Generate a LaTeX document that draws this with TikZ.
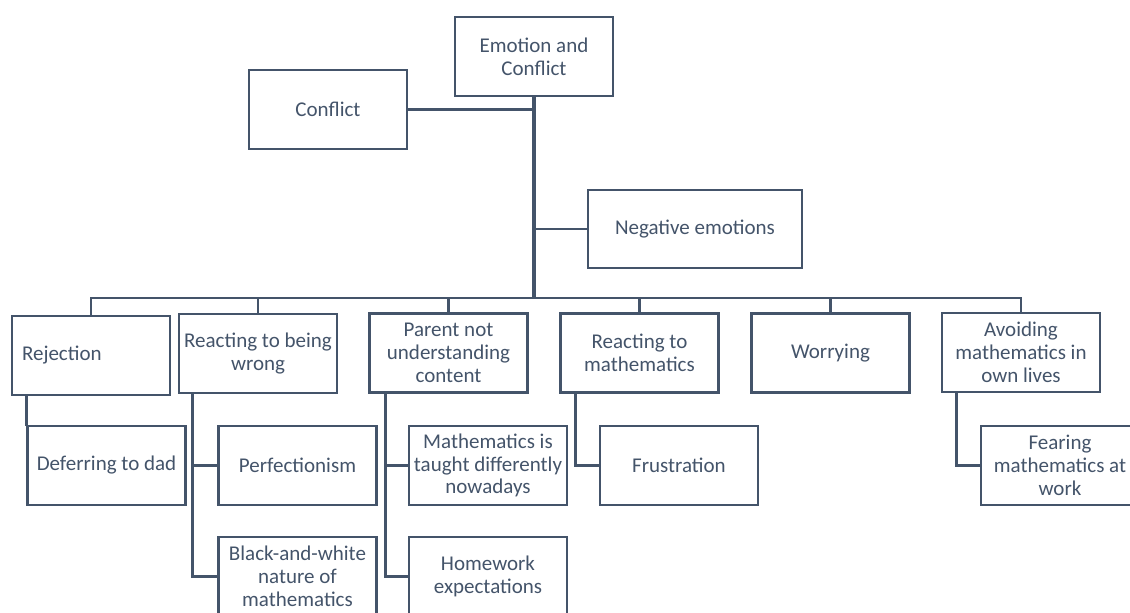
\documentclass[tikz,border=0pt]{standalone}
\usepackage{fontspec}
\setmainfont{Carlito}
\definecolor{slate}{HTML}{44546A}
\begin{document}
\begin{tikzpicture}[x=1pt,y=-1pt,
  box/.style={draw=slate, line width=2.8pt, rectangle, fill=white,
    minimum width=158pt, minimum height=79pt, inner sep=2pt,
    align=center, text=slate, font=\fontsize{21}{22.8}\selectfont},
  link/.style={draw=slate, line width=2.8pt, line cap=rect},
  trunk/.style={draw=slate, line width=3.2pt}]
\useasboundingbox (0,0) rectangle (1130,613);
\clip (0,0) rectangle (1130,613);

% top level
\node[box] (root) at (534,56.5) {Emotion and\\Conflict};
\node[box] (conf) at (328,109.5) {Conflict};
\node[box, minimum width=214pt, minimum height=78pt] (neg) at (695,229) {Negative emotions};

% second level
\node[box, text width=138pt, inner xsep=10pt, align=left] (rej) at (91,355.5) {Rejection};
\node[box] (rbw) at (258,353.5) {Reacting to being\\wrong};
\node[box] (pnu) at (448.5,353) {Parent not\\understanding\\content};
\node[box] (rtm) at (639.5,353) {Reacting to\\mathematics};
\node[box] (wor) at (830.5,353) {Worrying};
\node[box] (avo) at (1021,352.5) {Avoiding\\mathematics in\\own lives};

% third level
\node[box] (def) at (106.5,465.5) {Deferring to dad};
\node[box] (perf) at (297.5,465.5) {Perfectionism};
\node[box] (bw) at (297.5,576.5) {Black-and-white\\nature of\\mathematics};
\node[box] (mtd) at (488,465.5) {Mathematics is\\taught differently\\nowadays};
\node[box] (hw) at (488,576.5) {Homework\\expectations};
\node[box] (fru) at (679,465.5) {Frustration};
\node[box] (fear) at (1060,465.5) {Fearing\\mathematics at\\work};

% main trunk and bus
\coordinate (bus) at (533,298);
\draw[trunk] (root.south) -- (root.south |- bus);
\draw[link] (conf.east) -- (conf.east -| root.south);
\draw[link] (neg.west) -- (neg.west -| root.south);
\draw[link] (rej.north) -- (rej.north |- bus) -- (avo.north |- bus) -- (avo.north);
\foreach \n in {rbw,pnu,rtm,wor}
  \draw[link] (\n.north) -- (\n.north |- bus);

% sub-branches
\draw[link] (rej.south -| def.north west) -- (def.north west);
\coordinate (s1) at ([xshift=15pt]rbw.south west);
\draw[link] (s1) |- (bw.west);
\draw[link] (perf.west) -| (s1);
\coordinate (s2) at ([xshift=17pt]pnu.south west);
\draw[link] (s2) |- (hw.west);
\draw[link] (mtd.west) -| (s2);
\coordinate (s3) at ([xshift=16pt]rtm.south west);
\draw[link] (s3) |- (fru.west);
\coordinate (s4) at ([xshift=16pt]avo.south west);
\draw[link] (s4) |- (fear.west);
\end{tikzpicture}
\end{document}
